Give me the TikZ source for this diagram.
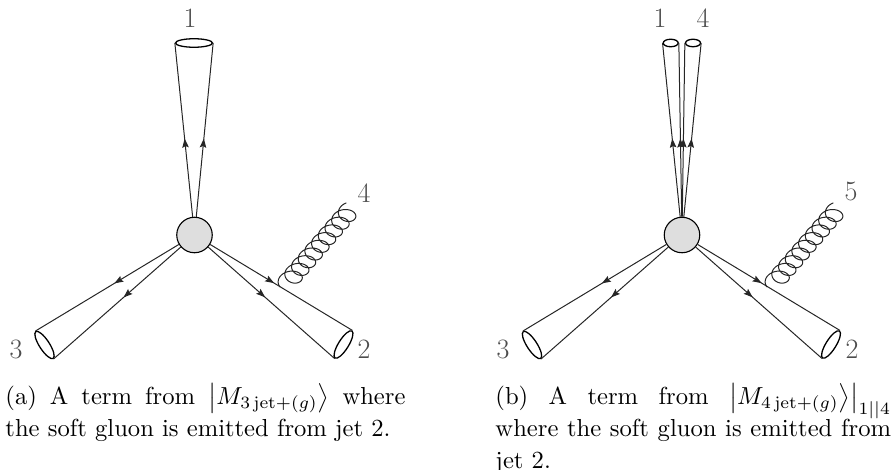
\documentclass[tikz,border=0pt]{standalone}
\usetikzlibrary{arrows.meta,decorations.markings,shapes.geometric}
\tikzset{
  blob/.style={circle,draw=black,fill=black!13,line width=1.1pt,minimum size=35.5pt,inner sep=0pt},
  jetend/.style={ellipse,draw=black,line width=1.3pt,inner sep=0pt,fill=white},
  fline/.style={line width=1pt,draw=black!85,postaction={decorate},decoration={markings,mark=at position #1 with {\arrow{Stealth[length=9pt,width=6.5pt,inset=1.5pt]}}}},
  gluon/.style={line width=1pt,draw=black!85,rotate=49,domain=0:3350,samples=600,variable=\t},
  leg/.style={text=black!70,font=\fontsize{28}{30}\selectfont,inner sep=0pt},
  capt/.style={inner sep=0pt,anchor=north west,align=justify,font=\fontsize{10}{13}\selectfont,scale=2.46}
}
\newcommand{\gluoncurve}{plot ({\t/360*10.2+9*(1-cos(\t))},{-9*sin(\t)+2.5*(1-cos(\t))})}
\begin{document}
\begin{tikzpicture}[x=1pt,y=-1pt]
\useasboundingbox (0,0) rectangle (895,470);
% left diagram
\node[blob] (ba) at (194.5,235) {};
\node[jetend,minimum width=37pt,minimum height=8.5pt] (a1) at (194,43) {};
\node[jetend,minimum width=32pt,minimum height=10pt,rotate=58] (a2) at (343.5,344.5) {};
\node[jetend,minimum width=32pt,minimum height=10pt,rotate=-57] (a3) at (44.5,345) {};
\draw[fline=.45] (ba) -- (a1.west);
\draw[fline=.45] (ba) -- (a1.east);
\draw[fline=.45] (ba) -- (a2.east);
\draw[fline=.45] (ba) -- (a2.west);
\draw[fline=.45] (ba) -- (a3.east);
\draw[fline=.45] (ba) -- (a3.west);
\coordinate (ag0) at (280,287);
\draw[shift={(ag0)},gluon] \gluoncurve;
\node[leg] (al1) at (190,18) {1};
\node[leg] (al4) at (364,193) {4};
\node[leg] (al3) at (16,349) {3};
\node[leg] (al2) at (364,349) {2};
\node[capt,text width=162.6pt] (ca) at (5,383) {(a) A term from $\bigl|M_{3\,\mathrm{jet}+(g)}\bigr\rangle$ where the soft gluon is emitted from jet 2.};
% right diagram
\node[blob] (bb) at (682,235) {};
\node[jetend,minimum width=15pt,minimum height=7.5pt] (b1) at (670.7,43) {};
\node[jetend,minimum width=15pt,minimum height=7.5pt] (b4) at (693,43) {};
\node[jetend,minimum width=32pt,minimum height=10pt,rotate=58] (b2) at (831,344.5) {};
\node[jetend,minimum width=32pt,minimum height=10pt,rotate=-57] (b3) at (532,345) {};
\draw[fline=.45] (bb) -- (b1.west);
\draw[fline=.45] (bb) -- (b1.east);
\draw[fline=.45] (bb) -- (b4.west);
\draw[fline=.45] (bb) -- (b4.east);
\draw[fline=.45] (bb) -- (b2.east);
\draw[fline=.45] (bb) -- (b2.west);
\draw[fline=.45] (bb) -- (b3.east);
\draw[fline=.45] (bb) -- (b3.west);
\coordinate (bg0) at (767,287);
\draw[shift={(bg0)},gluon] \gluoncurve;
\node[leg] (bl1) at (660,18) {1};
\node[leg] (bl4) at (703,18) {4};
\node[leg] (bl5) at (851,191) {5};
\node[leg] (bl3) at (503,349) {3};
\node[leg] (bl2) at (852,349) {2};
\node[capt,text width=160.8pt] (cb) at (495,383) {(b) A term from $\bigl|M_{4\,\mathrm{jet}+(g)}\bigr\rangle\bigr|_{1||4}$ where the soft gluon is emitted from jet 2.};
\end{tikzpicture}
\end{document}
